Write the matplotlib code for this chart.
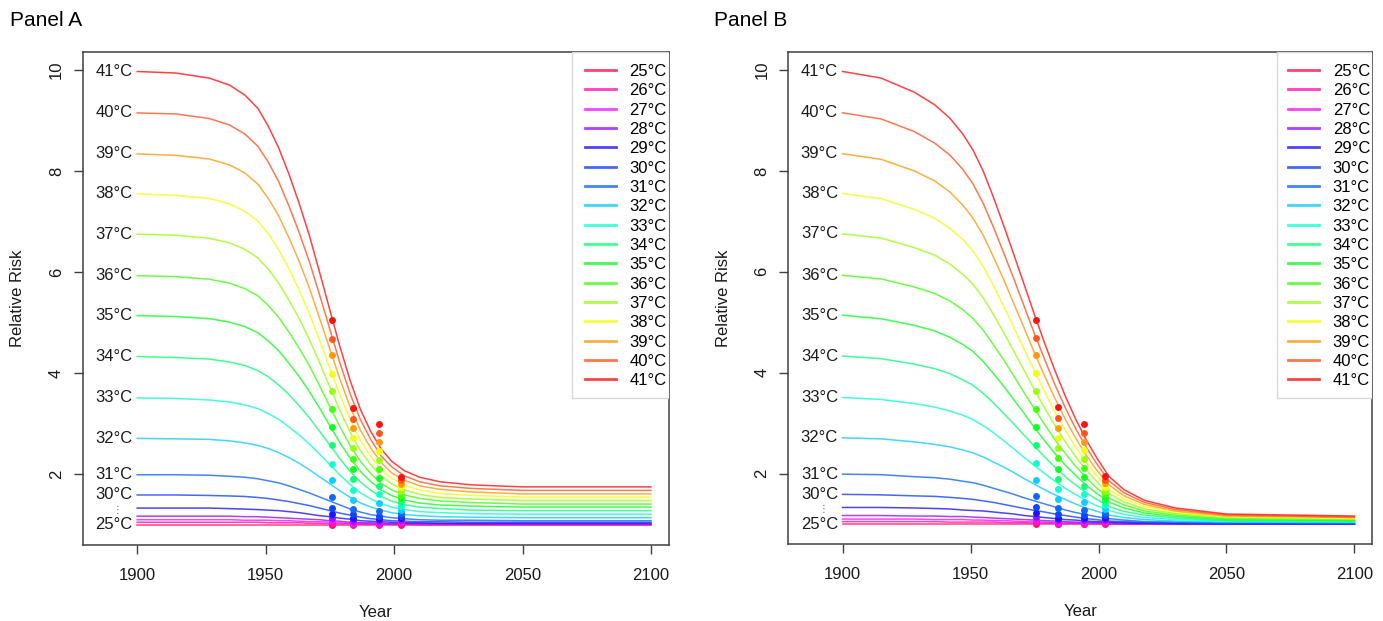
import matplotlib
matplotlib.use("Agg")
from matplotlib import pyplot as plt
from matplotlib.patches import Rectangle

plt.rcParams['font.family'] = ['Liberation Sans', 'DejaVu Sans']

# temperatures, bottom curve first
temps = [25, 26, 27, 28, 29, 30, 31, 32, 33, 34, 35, 36, 37, 38, 39, 40, 41]
colors = ['#FF1155', '#FF11AA', '#FF11FF', '#9911FF', '#2211FF', '#1144FF',
          '#1166FF', '#11CCFF', '#11FFCC', '#11FF77', '#11FF22', '#44FF11',
          '#99FF11', '#EEFF11', '#FF9911', '#FF5522', '#FF1111']

years = [1900, 1915, 1928, 1936, 1942, 1947, 1951, 1955, 1959, 1963,
         1967, 1971, 1975, 1979, 1983, 1987, 1991, 1995, 1999, 2004,
         2010, 2018, 2030, 2050, 2100]

# Panel A curves (relative risk), one row per temperature
rr_a = [
    [1.00, 1.00, 1.00, 1.00, 1.00, 1.00, 1.00, 1.00, 1.00, 1.00, 1.00, 1.00, 1.00, 1.00, 1.00, 1.00, 1.00, 1.00, 1.00, 1.00, 1.00, 1.00, 1.00, 1.00, 1.00],
    [1.05, 1.05, 1.05, 1.05, 1.05, 1.05, 1.04, 1.04, 1.04, 1.04, 1.03, 1.03, 1.02, 1.02, 1.02, 1.01, 1.01, 1.01, 1.01, 1.01, 1.00, 1.00, 1.00, 1.00, 1.00],
    [1.10, 1.10, 1.10, 1.10, 1.09, 1.09, 1.09, 1.08, 1.08, 1.07, 1.06, 1.06, 1.05, 1.04, 1.03, 1.03, 1.02, 1.02, 1.01, 1.01, 1.01, 1.01, 1.01, 1.01, 1.01],
    [1.17, 1.17, 1.17, 1.17, 1.16, 1.16, 1.15, 1.14, 1.13, 1.12, 1.11, 1.10, 1.08, 1.07, 1.05, 1.04, 1.04, 1.03, 1.02, 1.02, 1.02, 1.02, 1.01, 1.01, 1.01],
    [1.33, 1.33, 1.33, 1.32, 1.31, 1.30, 1.29, 1.28, 1.26, 1.24, 1.21, 1.18, 1.16, 1.13, 1.11, 1.08, 1.07, 1.06, 1.05, 1.04, 1.04, 1.03, 1.03, 1.03, 1.03],
    [1.59, 1.59, 1.58, 1.57, 1.56, 1.54, 1.52, 1.49, 1.46, 1.42, 1.38, 1.33, 1.28, 1.23, 1.19, 1.15, 1.12, 1.10, 1.08, 1.07, 1.06, 1.06, 1.05, 1.05, 1.05],
    [1.99, 1.99, 1.98, 1.96, 1.94, 1.91, 1.87, 1.83, 1.77, 1.70, 1.63, 1.55, 1.47, 1.39, 1.31, 1.25, 1.20, 1.17, 1.14, 1.12, 1.10, 1.09, 1.09, 1.08, 1.08],
    [2.71, 2.70, 2.69, 2.66, 2.62, 2.57, 2.51, 2.43, 2.33, 2.22, 2.09, 1.95, 1.81, 1.67, 1.54, 1.43, 1.35, 1.29, 1.24, 1.20, 1.18, 1.16, 1.15, 1.14, 1.14],
    [3.51, 3.50, 3.47, 3.43, 3.37, 3.30, 3.20, 3.09, 2.94, 2.78, 2.60, 2.40, 2.19, 1.98, 1.79, 1.63, 1.51, 1.42, 1.35, 1.30, 1.26, 1.24, 1.22, 1.21, 1.21],
    [4.33, 4.31, 4.28, 4.22, 4.15, 4.05, 3.93, 3.77, 3.58, 3.36, 3.12, 2.85, 2.58, 2.30, 2.05, 1.84, 1.68, 1.56, 1.47, 1.40, 1.35, 1.32, 1.29, 1.28, 1.28],
    [5.14, 5.12, 5.08, 5.01, 4.92, 4.80, 4.64, 4.45, 4.20, 3.94, 3.64, 3.31, 2.96, 2.62, 2.31, 2.05, 1.85, 1.69, 1.58, 1.49, 1.43, 1.39, 1.37, 1.35, 1.35],
    [5.93, 5.91, 5.86, 5.78, 5.67, 5.53, 5.34, 5.11, 4.82, 4.50, 4.15, 3.75, 3.34, 2.93, 2.56, 2.25, 2.01, 1.82, 1.69, 1.59, 1.52, 1.47, 1.44, 1.41, 1.41],
    [6.75, 6.73, 6.67, 6.58, 6.45, 6.28, 6.06, 5.79, 5.45, 5.09, 4.67, 4.21, 3.73, 3.25, 2.82, 2.46, 2.18, 1.96, 1.81, 1.69, 1.60, 1.54, 1.51, 1.48, 1.48],
    [7.55, 7.52, 7.46, 7.35, 7.20, 7.01, 6.76, 6.45, 6.07, 5.65, 5.18, 4.65, 4.10, 3.56, 3.07, 2.66, 2.35, 2.09, 1.92, 1.78, 1.69, 1.62, 1.58, 1.55, 1.55],
    [8.34, 8.31, 8.24, 8.12, 7.96, 7.74, 7.46, 7.12, 6.69, 6.22, 5.69, 5.09, 4.48, 3.87, 3.32, 2.86, 2.51, 2.23, 2.03, 1.88, 1.77, 1.70, 1.65, 1.61, 1.61],
    [9.15, 9.13, 9.04, 8.91, 8.73, 8.49, 8.18, 7.80, 7.32, 6.79, 6.21, 5.55, 4.87, 4.19, 3.58, 3.07, 2.68, 2.36, 2.15, 1.97, 1.85, 1.77, 1.72, 1.68, 1.68],
    [9.97, 9.94, 9.84, 9.70, 9.50, 9.24, 8.89, 8.47, 7.95, 7.37, 6.73, 6.00, 5.25, 4.51, 3.84, 3.27, 2.84, 2.50, 2.26, 2.07, 1.94, 1.85, 1.79, 1.75, 1.75],
]

# Panel B curves
rr_b = [
    [1.00, 1.00, 1.00, 1.00, 1.00, 1.00, 1.00, 1.00, 1.00, 1.00, 1.00, 1.00, 1.00, 1.00, 1.00, 1.00, 1.00, 1.00, 1.00, 1.00, 1.00, 1.00, 1.00, 1.00, 1.00],
    [1.05, 1.05, 1.05, 1.05, 1.04, 1.04, 1.04, 1.04, 1.04, 1.03, 1.03, 1.03, 1.02, 1.02, 1.02, 1.01, 1.01, 1.01, 1.01, 1.00, 1.00, 1.00, 1.00, 1.00, 1.00],
    [1.10, 1.10, 1.10, 1.09, 1.09, 1.09, 1.08, 1.08, 1.07, 1.07, 1.06, 1.05, 1.05, 1.04, 1.03, 1.03, 1.02, 1.02, 1.01, 1.01, 1.01, 1.01, 1.00, 1.00, 1.00],
    [1.17, 1.17, 1.16, 1.16, 1.15, 1.15, 1.14, 1.13, 1.12, 1.11, 1.10, 1.09, 1.08, 1.07, 1.06, 1.05, 1.04, 1.03, 1.03, 1.02, 1.01, 1.01, 1.01, 1.00, 1.00],
    [1.33, 1.33, 1.32, 1.31, 1.30, 1.28, 1.27, 1.26, 1.24, 1.22, 1.20, 1.17, 1.15, 1.13, 1.11, 1.09, 1.08, 1.06, 1.05, 1.04, 1.03, 1.02, 1.01, 1.01, 1.01],
    [1.59, 1.58, 1.56, 1.55, 1.53, 1.51, 1.49, 1.46, 1.43, 1.39, 1.35, 1.31, 1.27, 1.24, 1.20, 1.17, 1.14, 1.11, 1.09, 1.06, 1.05, 1.03, 1.02, 1.01, 1.01],
    [1.99, 1.98, 1.94, 1.92, 1.89, 1.85, 1.82, 1.77, 1.71, 1.65, 1.59, 1.52, 1.46, 1.40, 1.34, 1.28, 1.23, 1.19, 1.15, 1.11, 1.08, 1.05, 1.04, 1.02, 1.02],
    [2.71, 2.69, 2.63, 2.58, 2.53, 2.47, 2.41, 2.33, 2.23, 2.13, 2.02, 1.90, 1.79, 1.68, 1.58, 1.49, 1.40, 1.32, 1.26, 1.18, 1.13, 1.09, 1.06, 1.04, 1.03],
    [3.51, 3.47, 3.39, 3.32, 3.24, 3.16, 3.07, 2.95, 2.81, 2.65, 2.49, 2.32, 2.16, 2.00, 1.85, 1.71, 1.59, 1.47, 1.37, 1.27, 1.19, 1.13, 1.09, 1.06, 1.04],
    [4.33, 4.28, 4.17, 4.08, 3.98, 3.86, 3.75, 3.59, 3.40, 3.19, 2.98, 2.76, 2.54, 2.33, 2.13, 1.94, 1.78, 1.63, 1.50, 1.35, 1.25, 1.18, 1.12, 1.07, 1.06],
    [5.14, 5.07, 4.94, 4.83, 4.70, 4.56, 4.42, 4.22, 3.98, 3.73, 3.46, 3.19, 2.91, 2.65, 2.40, 2.17, 1.97, 1.78, 1.62, 1.44, 1.32, 1.22, 1.15, 1.09, 1.07],
    [5.93, 5.86, 5.70, 5.57, 5.42, 5.25, 5.07, 4.84, 4.55, 4.25, 3.93, 3.60, 3.28, 2.97, 2.67, 2.40, 2.15, 1.93, 1.73, 1.52, 1.38, 1.26, 1.18, 1.11, 1.09],
    [6.75, 6.67, 6.48, 6.33, 6.15, 5.95, 5.75, 5.48, 5.15, 4.79, 4.42, 4.04, 3.66, 3.30, 2.95, 2.63, 2.34, 2.08, 1.86, 1.61, 1.44, 1.30, 1.21, 1.13, 1.10],
    [7.55, 7.45, 7.24, 7.06, 6.86, 6.64, 6.41, 6.10, 5.72, 5.31, 4.89, 4.46, 4.03, 3.62, 3.22, 2.86, 2.53, 2.23, 1.98, 1.69, 1.50, 1.35, 1.24, 1.15, 1.11],
    [8.34, 8.23, 8.00, 7.80, 7.58, 7.32, 7.06, 6.72, 6.29, 5.84, 5.36, 4.88, 4.39, 3.93, 3.49, 3.08, 2.71, 2.38, 2.09, 1.78, 1.56, 1.39, 1.26, 1.16, 1.13],
    [9.15, 9.03, 8.78, 8.55, 8.31, 8.03, 7.74, 7.35, 6.88, 6.37, 5.85, 5.31, 4.77, 4.26, 3.76, 3.31, 2.90, 2.54, 2.22, 1.86, 1.62, 1.43, 1.29, 1.18, 1.14],
    [9.97, 9.84, 9.56, 9.31, 9.04, 8.73, 8.41, 7.99, 7.47, 6.91, 6.33, 5.74, 5.15, 4.58, 4.04, 3.54, 3.09, 2.69, 2.34, 1.95, 1.68, 1.47, 1.32, 1.20, 1.16],
]

# observed points (same in both panels), one list per year, 25..41 C
dot_years = [1975.7, 1984.2, 1994.3, 2002.6]
dots = [
    [1.00, 1.04, 1.08, 1.14, 1.22, 1.34, 1.55, 1.88, 2.21, 2.57, 2.93, 3.29, 3.64, 3.99, 4.35, 4.68, 5.05],
    [1.00, 1.01, 1.04, 1.08, 1.13, 1.21, 1.32, 1.50, 1.69, 1.90, 2.10, 2.31, 2.51, 2.71, 2.91, 3.10, 3.32],
    [1.00, 1.01, 1.04, 1.08, 1.12, 1.18, 1.28, 1.43, 1.60, 1.76, 1.93, 2.11, 2.29, 2.46, 2.63, 2.81, 2.99],
    [1.00, 1.03, 1.06, 1.09, 1.13, 1.18, 1.23, 1.30, 1.37, 1.45, 1.52, 1.59, 1.66, 1.74, 1.81, 1.88, 1.95],
]

label_temps = [41, 40, 39, 38, 37, 36, 35, 34, 33, 32, 31, 30, 25]
axis_col = '#404040'
txt_col = '#1a1a1a'
fs = 12


def draw_panel(ax, rr, frame_x0, frame_y0):
    for t, col, row in zip(temps, colors, rr):
        ax.plot(years, row, color=col, lw=1.1, alpha=0.8, label=f'{t}\u00b0C')
    for yr, vals in zip(dot_years, dots):
        for col, v in zip(colors, vals):
            ax.plot(yr, v, 'o', color=col, ms=5, mec='none')

    # temperature labels at the start of the curves
    for t, row in zip(temps, rr):
        if t in label_temps:
            ax.text(1898.2, row[0], f'{t}\u00b0C', ha='right', va='center',
                    fontsize=fs, color=txt_col)
    ax.text(1892.5, 1.3, '\u22ee', ha='center', va='center', fontsize=7,
            color='#666666', family=['DejaVu Sans'])

    ax.set_xlim(1878.8, 2107)
    ax.set_ylim(0.6, 10.35)
    ax.set_xticks([1900, 1950, 2000, 2050, 2100])
    ax.set_yticks([2, 4, 6, 8, 10])
    ax.tick_params(axis='both', length=6.5, width=1, color=axis_col,
                   labelsize=fs, labelcolor=txt_col)
    ax.tick_params(axis='x', pad=10)
    ax.tick_params(axis='y', pad=7, labelrotation=90)
    for lbl in ax.get_yticklabels():
        lbl.set_va('center')
    for s in ax.spines.values():
        s.set_color(axis_col)
        s.set_linewidth(1.1)

    ax.set_xlabel('Year', fontsize=fs, color=txt_col)
    ax.set_ylabel('Relative Risk', fontsize=fs, color=txt_col)
    ax.xaxis.set_label_coords(0.5, -0.137)
    ax.xaxis.label.set_va('center')
    ax.yaxis.set_label_coords(-0.098, 0.5)

    # legend box (drawn separately so the text can sit close to the right edge)
    ax.add_patch(Rectangle((frame_x0, frame_y0), 1 - frame_x0, 1 - frame_y0,
                           transform=ax.transAxes, facecolor='white',
                           edgecolor='#d8d8d8', lw=1.0, zorder=4))
    leg = ax.legend(loc='upper right', bbox_to_anchor=(1.016, 1), borderaxespad=0,
                    frameon=False, fontsize=fs,
                    handlelength=1.85, handletextpad=0.8, labelspacing=0.26,
                    borderpad=0.7)
    leg.set_zorder(5)
    for h in leg.get_lines():
        h.set_linewidth(2.0)


def main():
    fig = plt.figure(figsize=(13.83, 6.21), dpi=100)
    ax_a = fig.add_axes([0.0598, 0.1224, 0.4239, 0.7934])
    ax_b = fig.add_axes([0.5700, 0.1235, 0.4223, 0.7923])

    draw_panel(ax_a, rr_a, 0.8346, 0.2984)
    draw_panel(ax_b, rr_b, 0.8363, 0.2966)

    fig.text(10 / 1383, 1 - 20 / 621, 'Panel A', fontsize=15, ha='left', va='center')
    fig.text(714 / 1383, 1 - 20 / 621, 'Panel B', fontsize=15, ha='left', va='center')

    fig.savefig('out.png', dpi=100)


if __name__ == '__main__':
    main()
